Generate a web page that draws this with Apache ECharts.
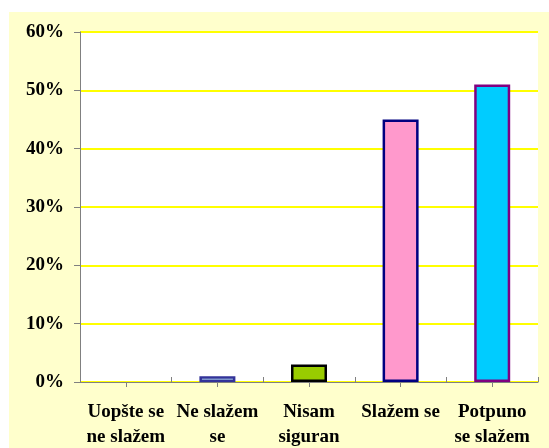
<!DOCTYPE html>
<html><head><meta charset="utf-8">
<script src="https://cdn.jsdelivr.net/npm/echarts@6/dist/echarts.min.js"></script>
<style>
html,body{margin:0;padding:0;background:#fff;width:549px;height:448px;overflow:hidden;}
#c{position:absolute;left:9px;top:12px;width:540px;height:436px;}
</style></head>
<body><div id="c"></div>
<script>
const categories = ['Uopšte se\nne slažem', 'Ne slažem\nse', 'Nisam\nsiguran', 'Slažem se', 'Potpuno\nse slažem'];
const values = [0, 1, 3, 45, 51];
const fills = ['#CCFFFF', '#CCFFFF', '#99CC00', '#FF99CC', '#00CCFF'];
const borders = ['#333399', '#333399', '#000000', '#000080', '#800080'];
const yTicks = [0, 10, 20, 30, 40, 50, 60];

const chart = echarts.init(document.getElementById('c'), null, {renderer: 'canvas'});
const font = {fontFamily: 'Liberation Serif', fontWeight: 'bold', fontSize: 19, color: '#000'};
chart.setOption({
  backgroundColor: '#FFFFCC',
  animation: false,
  grid: {left: 71, top: 20, right: 11, bottom: 66, outerBoundsMode: 'none', containLabel: false, show: true, backgroundColor: '#ffffff', borderWidth: 0},
  xAxis: [{
    type: 'category', data: categories, position: 'bottom',
    axisLine: {lineStyle: {color: '#808080', width: 1}},
    axisTick: {show: true, alignWithLabel: true, length: 5, lineStyle: {color: '#808080'}},
    axisLabel: Object.assign({margin: 18, lineHeight: 25, interval: 0}, font)
  }, {
    type: 'category', data: categories, position: 'bottom', offset: 0,
    axisLine: {show: false},
    axisTick: {show: true, inside: true, length: 5, lineStyle: {color: '#808080'}},
    axisLabel: {show: false}
  }],
  yAxis: {
    type: 'value', min: yTicks[0], max: yTicks[yTicks.length - 1], interval: 10,
    axisLine: {show: true, lineStyle: {color: '#808080'}},
    axisTick: {show: true, length: 6, lineStyle: {color: '#808080'}},
    axisLabel: Object.assign({margin: 16, formatter: v => v + '%'}, font),
    splitLine: {lineStyle: {color: '#FFFF00', width: 2}}
  },
  series: [{
    type: 'bar', xAxisIndex: 0, barWidth: 36,
    data: values.map((v, i) => ({value: v, itemStyle: {color: fills[i], borderColor: borders[i], borderWidth: v > 0 ? 2.5 : 0}}))
  }]
});
</script></body></html>
